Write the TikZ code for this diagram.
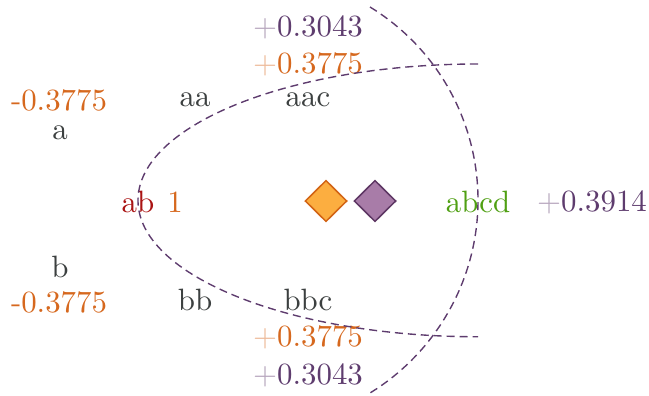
\documentclass[tikz,border=0pt]{standalone}
\usetikzlibrary{shapes.geometric}
\definecolor{txtgray}{RGB}{60,64,64}
\definecolor{txtorange}{RGB}{214,104,30}
\definecolor{txtpurple}{RGB}{94,60,110}
\definecolor{txtred}{RGB}{170,20,20}
\definecolor{txtgreen}{RGB}{80,160,20}
\definecolor{dorangefill}{RGB}{252,174,64}
\definecolor{dorangeline}{RGB}{210,100,20}
\definecolor{dpurplefill}{RGB}{168,124,168}
\definecolor{dpurpleline}{RGB}{94,55,100}
\tikzset{
  lbl/.style={inner sep=0pt, anchor=center, text=txtgray},
  olbl/.style={inner sep=0pt, anchor=center, text=txtorange},
  plbl/.style={inner sep=0pt, anchor=center, text=txtpurple},
  curve/.style={draw=txtpurple, line width=0.45pt, dash pattern=on 2.6pt off 1.6pt},
  dia/.style={diamond, minimum width=13.6pt, minimum height=13.4pt, inner sep=0pt, line width=0.5pt},
}
\newcommand{\myoplus}{{\color{txtorange!45!white}+}}
\newcommand{\mypplus}{{\color{txtpurple!45!white}+}}
\begin{document}
\begin{tikzpicture}[x=0.3241pt,y=-0.3241pt]
\useasboundingbox (0,0) rectangle (649,395);
% labels
\node[olbl] (la) at (59,100) {-0.3775};
\node[lbl] (a) at (60,133) {a};
\node[lbl] (aa) at (195,100) {aa};
\node[lbl] (aac) at (308,100) {aac};
\node[plbl] (t1) at (308,27) {\mypplus0.3043};
\node[olbl] (t2) at (308,64) {\myoplus0.3775};
\node[lbl] (b) at (60,267) {b};
\node[olbl] (lb) at (59,302) {-0.3775};
\node[lbl] (bb) at (195,300) {bb};
\node[lbl] (bbc) at (308,300) {bbc};
\node[olbl] (u1) at (308,337) {\myoplus0.3775};
\node[plbl] (u2) at (308,375) {\mypplus0.3043};
\node[inner sep=0pt, text=txtred] (ab) at (138,202) {ab};
\node[olbl] (one) at (175,202) {1};
\node[inner sep=0pt, text=txtgreen] (abcd) at (478,202) {abcd};
\node[plbl] (r) at (592,202) {\mypplus0.3914};
% diamonds
\node[dia, fill=dorangefill, draw=dorangeline] (d1) at (326,201) {};
\node[dia, fill=dpurplefill, draw=dpurpleline] (d2) at (375,201) {};
% curves
\coordinate (e0) at (478,64);
\coordinate (c0) at (370,7);
\draw[curve] (e0) arc[start angle=90, end angle=270, x radius=110.2pt, y radius=44.2pt];
\draw[curve] (c0) arc[start angle=58.45, end angle=-58.45, radius=73.4pt];
\end{tikzpicture}
\end{document}
